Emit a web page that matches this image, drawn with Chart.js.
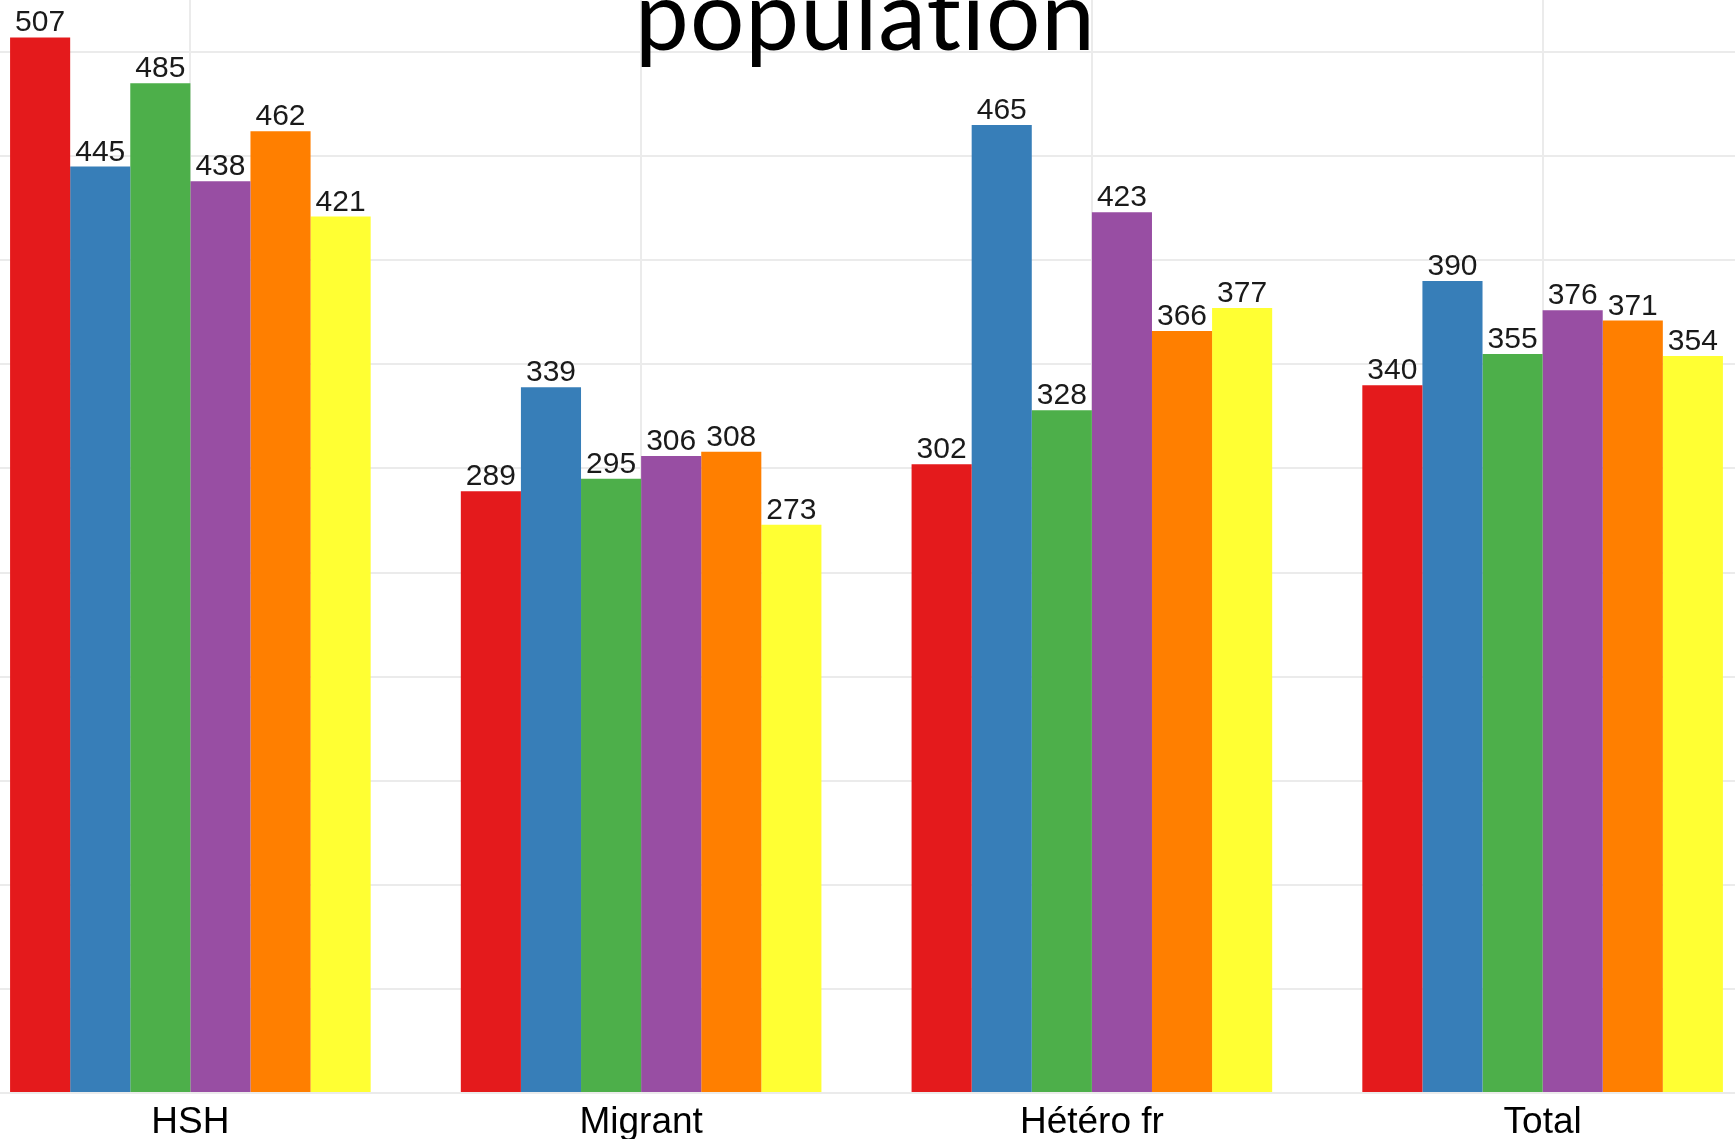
<!DOCTYPE html>
<html>
<head>
<meta charset="utf-8">
<script src="https://cdn.jsdelivr.net/npm/chart.js@4"></script>
<style>
  html, body { margin: 0; padding: 0; background: #fff; overflow: hidden; }
  #wrap { position: absolute; left: -35.4px; top: 0; width: 1803px; height: 1139px; }
</style>
</head>
<body>
<div id="wrap"><canvas id="pop_chart"></canvas></div>
<script>
var categories = ['HSH', 'Migrant', 'Hétéro fr', 'Total'];
var seriesNames = ['Série 1', 'Série 2', 'Série 3', 'Série 4', 'Série 5', 'Série 6'];
var serie1 = [507, 289, 302, 340];
var serie2 = [445, 339, 465, 390];
var serie3 = [485, 295, 328, 355];
var serie4 = [438, 306, 423, 376];
var serie5 = [462, 308, 366, 371];
var serie6 = [421, 273, 377, 354];
var colours = ['#E41A1C', '#377EB8', '#4DAF4A', '#984EA3', '#FF7F00', '#FFFF33'];
var titleText = 'population';

var allSeries = [serie1, serie2, serie3, serie4, serie5, serie6];
var datasets = allSeries.map(function (d, i) {
    return {
        label: seriesNames[i],
        data: d,
        backgroundColor: colours[i],
        borderWidth: 0,
        categoryPercentage: 0.8,
        barPercentage: 1.0
    };
});

// value labels above each bar
var valueLabels = {
    id: 'valueLabels',
    afterDatasetsDraw: function (chart) {
        var ctx = chart.ctx;
        ctx.save();
        ctx.font = '30px "Liberation Sans", Arial, sans-serif';
        ctx.fillStyle = '#1a1a1a';
        ctx.textAlign = 'center';
        ctx.textBaseline = 'alphabetic';
        chart.data.datasets.forEach(function (ds, i) {
            chart.getDatasetMeta(i).data.forEach(function (bar, j) {
                ctx.fillText(ds.data[j], bar.x, bar.y - 6);
            });
        });
        ctx.restore();
    }
};

// title sits over the top of the plot
var bigTitle = {
    id: 'bigTitle',
    afterDraw: function (chart) {
        var ctx = chart.ctx;
        ctx.save();
        ctx.font = '96px Lato, "Open Sans", sans-serif';
        if ('letterSpacing' in ctx) ctx.letterSpacing = '1px'; // also stops the "ti" ligature
        ctx.fillStyle = '#000';
        ctx.textAlign = 'center';
        ctx.textBaseline = 'alphabetic';
        ctx.fillText(titleText, chart.width / 2 - 1, 50);
        ctx.restore();
    }
};

var pop_ctx = document.getElementById('pop_chart').getContext('2d');
var pop_chart = new Chart(pop_ctx, {
    type: 'bar',
    data: {
        labels: categories,
        datasets: datasets
    },
    options: {
        responsive: true,
        maintainAspectRatio: false,
        animation: false,
        layout: { padding: 0 },
        plugins: {
            legend: { display: false },
            title: { display: false },
            tooltip: { enabled: false }
        },
        scales: {
            x: {
                offset: true,
                grid: {
                    offset: false,
                    color: '#EBEBEB',
                    lineWidth: 2,
                    drawTicks: false
                },
                border: { display: false },
                ticks: {
                    padding: 8,
                    color: '#000',
                    font: { family: '"Liberation Sans", Arial, sans-serif', size: 37 }
                },
                afterFit: function (s) { s.height = 46; }
            },
            y: {
                min: 0,
                max: 525,
                grid: {
                    color: '#EBEBEB',
                    lineWidth: 2,
                    drawTicks: false
                },
                border: { display: false },
                ticks: { display: false, stepSize: 50 },
                afterBuildTicks: function (axis) {
                    axis.ticks = axis.ticks.filter(function (t) { return t.value % 50 === 0; });
                },
                afterFit: function (s) { s.width = 0; }
            }
        }
    },
    plugins: [valueLabels, bigTitle]
});
</script>
</body>
</html>
